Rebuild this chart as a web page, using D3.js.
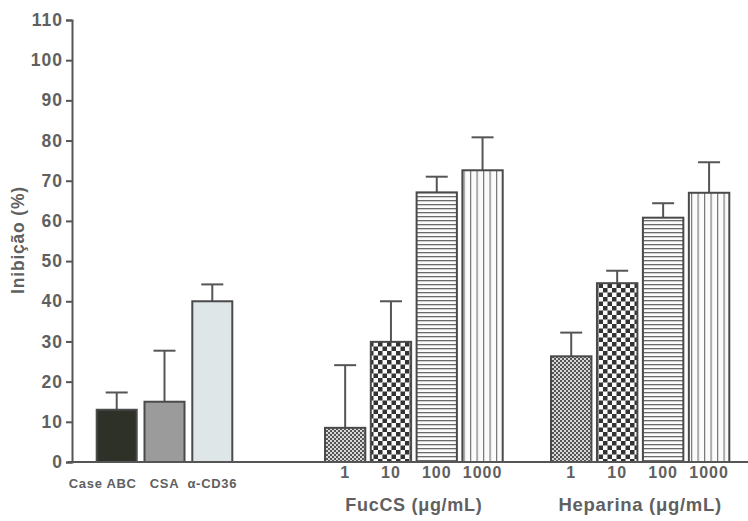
<!DOCTYPE html>
<html>
<head>
<meta charset="utf-8">
<script src="https://cdn.jsdelivr.net/npm/d3@7"></script>
<style>
  html, body { margin: 0; padding: 0; background: #fff; }
  svg { display: block; }
  text { font-family: "Liberation Sans", Arial, sans-serif; font-weight: bold; fill: #606060; }
</style>
</head>
<body>
<svg id="chart" width="748" height="521"></svg>
<script>
// Controls
const controlLabels = ["Case ABC", "CSA", "α-CD36"];
const controlMeans  = [13, 15, 40];
const controlErrors = [4.3, 12.7, 4.2];

// Fucosylated chondroitin sulfate, by concentration
const fucLabels = ["1", "10", "100", "1000"];
const fucMeans  = [8.5, 29.9, 67.1, 72.6];
const fucErrors = [15.6, 10.1, 3.9, 8.2];

// Heparin, by concentration
const hepLabels = ["1", "10", "100", "1000"];
const hepMeans  = [26.3, 44.5, 60.8, 67.0];
const hepErrors = [5.9, 3.1, 3.6, 7.6];

const yTicks = [0, 10, 20, 30, 40, 50, 60, 70, 80, 90, 100, 110];
const yTitle = "Inibição (%)";
const fucTitle = "FucCS (μg/mL)";
const hepTitle = "Heparina (μg/mL)";

const svg = d3.select("#chart");
const axisX = 72, baseY = 462, topY = 20;

const y = d3.scaleLinear().domain([0, 110]).range([baseY, topY]);

const xCtrl = d3.scaleBand().domain(controlLabels).range([96.7, 232.3]).paddingInner(0.163).paddingOuter(0);
const xFuc  = d3.scaleBand().domain(fucLabels).range([325, 502.7]).paddingInner(0.12).paddingOuter(0);
const xHep  = d3.scaleBand().domain(hepLabels).range([551, 729.3]).paddingInner(0.12).paddingOuter(0);

// Fill patterns
const defs = svg.append("defs");
const ink = "#4a4a4a";

// fine checkerboard
const pFine = defs.append("pattern").attr("id", "pFine").attr("patternUnits", "userSpaceOnUse")
  .attr("width", 4).attr("height", 4);
pFine.append("rect").attr("width", 4).attr("height", 4).attr("fill", "#d8d8d8");
pFine.append("rect").attr("width", 2).attr("height", 2).attr("fill", "#555");
pFine.append("rect").attr("x", 2).attr("y", 2).attr("width", 2).attr("height", 2).attr("fill", "#555");

// coarse checkerboard
const pCoarse = defs.append("pattern").attr("id", "pCoarse").attr("patternUnits", "userSpaceOnUse")
  .attr("width", 9).attr("height", 9);
pCoarse.append("rect").attr("width", 9).attr("height", 9).attr("fill", "#fafafa");
pCoarse.append("rect").attr("width", 4.5).attr("height", 4.5).attr("fill", "#333");
pCoarse.append("rect").attr("x", 4.5).attr("y", 4.5).attr("width", 4.5).attr("height", 4.5).attr("fill", "#333");

// horizontal lines
const pHoriz = defs.append("pattern").attr("id", "pHoriz").attr("patternUnits", "userSpaceOnUse")
  .attr("width", 8).attr("height", 4);
pHoriz.append("rect").attr("width", 8).attr("height", 4).attr("fill", "#fbfbfb");
pHoriz.append("rect").attr("y", 0).attr("width", 8).attr("height", 1.3).attr("fill", "#6a6a6a");

// vertical lines
const pVert = defs.append("pattern").attr("id", "pVert").attr("patternUnits", "userSpaceOnUse")
  .attr("width", 6.5).attr("height", 8).attr("x", 2);
pVert.append("rect").attr("width", 6.5).attr("height", 8).attr("fill", "#fbfbfb");
pVert.append("rect").attr("x", 0).attr("width", 1.2).attr("height", 8).attr("fill", "#777");

const patternFills = ["url(#pFine)", "url(#pCoarse)", "url(#pHoriz)", "url(#pVert)"];
const controlFills = ["#2d3127", "#9b9b9b", "#dfe6e8"];

// One group of bars with upper error bars
function drawGroup(xs, labels, means, errors, fills) {
  const g = svg.append("g");
  const capW = 22;
  labels.forEach((lab, i) => {
    const cx = xs(lab) + xs.bandwidth() / 2;
    g.append("line")
      .attr("x1", cx).attr("x2", cx)
      .attr("y1", y(means[i])).attr("y2", y(means[i] + errors[i]))
      .attr("stroke", "#555").attr("stroke-width", 2);
    g.append("line")
      .attr("x1", cx - capW / 2).attr("x2", cx + capW / 2)
      .attr("y1", y(means[i] + errors[i])).attr("y2", y(means[i] + errors[i]))
      .attr("stroke", "#555").attr("stroke-width", 2);
  });
  g.selectAll("rect.bar").data(labels).join("rect")
    .attr("class", "bar")
    .attr("x", d => xs(d))
    .attr("y", (d, i) => y(means[i]))
    .attr("width", xs.bandwidth())
    .attr("height", (d, i) => y(0) - y(means[i]))
    .attr("fill", (d, i) => fills[i])
    .attr("stroke", ink).attr("stroke-width", 2);
}

drawGroup(xCtrl, controlLabels, controlMeans, controlErrors, controlFills);
drawGroup(xFuc, fucLabels, fucMeans, fucErrors, patternFills);
drawGroup(xHep, hepLabels, hepMeans, hepErrors, patternFills);

// Y axis
const yAxis = d3.axisLeft(y).tickValues(yTicks).tickSize(6).tickPadding(3).tickFormat(d3.format("d"));
const gy = svg.append("g").attr("transform", `translate(${axisX},0)`).call(yAxis);
gy.select(".domain").attr("stroke", "#555").attr("stroke-width", 2);
gy.selectAll(".tick line").attr("stroke", "#555").attr("stroke-width", 2);
gy.selectAll(".tick text").attr("font-size", 17.5).attr("fill", "#606060")
  .attr("font-family", "Liberation Sans, Arial, sans-serif").attr("font-weight", "bold")
  .attr("letter-spacing", 1);

// Baseline
svg.append("line").attr("x1", axisX - 4).attr("x2", 748).attr("y1", baseY).attr("y2", baseY)
  .attr("stroke", "#555").attr("stroke-width", 2);

// Y title
svg.append("text")
  .attr("transform", `translate(24,240) rotate(-90)`)
  .attr("text-anchor", "middle")
  .attr("font-size", 17.5)
  .attr("letter-spacing", 0.8)
  .text(yTitle);

// Control labels
svg.append("g").selectAll("text").data(controlLabels).join("text")
  .attr("x", (d, i) => i === 0 ? xCtrl(d) + xCtrl.bandwidth() : xCtrl(d) + xCtrl.bandwidth() / 2)
  .attr("y", 488)
  .attr("text-anchor", (d, i) => i === 0 ? "end" : "middle")
  .attr("font-size", 13)
  .attr("letter-spacing", 0.7)
  .text(d => d);

// Concentration labels
function concLabels(xs, labels) {
  svg.append("g").selectAll("text").data(labels).join("text")
    .attr("x", d => xs(d) + xs.bandwidth() / 2)
    .attr("y", 478)
    .attr("text-anchor", "middle")
    .attr("font-size", 16)
    .attr("letter-spacing", 1)
    .text(d => d);
}
concLabels(xFuc, fucLabels);
concLabels(xHep, hepLabels);

svg.append("text").attr("x", (xFuc.range()[0] + xFuc.range()[1]) / 2).attr("y", 511)
  .attr("text-anchor", "middle").attr("font-size", 18).attr("letter-spacing", 0.7).text(fucTitle);
svg.append("text").attr("x", (xHep.range()[0] + xHep.range()[1]) / 2).attr("y", 511)
  .attr("text-anchor", "middle").attr("font-size", 18.5).attr("letter-spacing", 0.7).text(hepTitle);
</script>
</body>
</html>
